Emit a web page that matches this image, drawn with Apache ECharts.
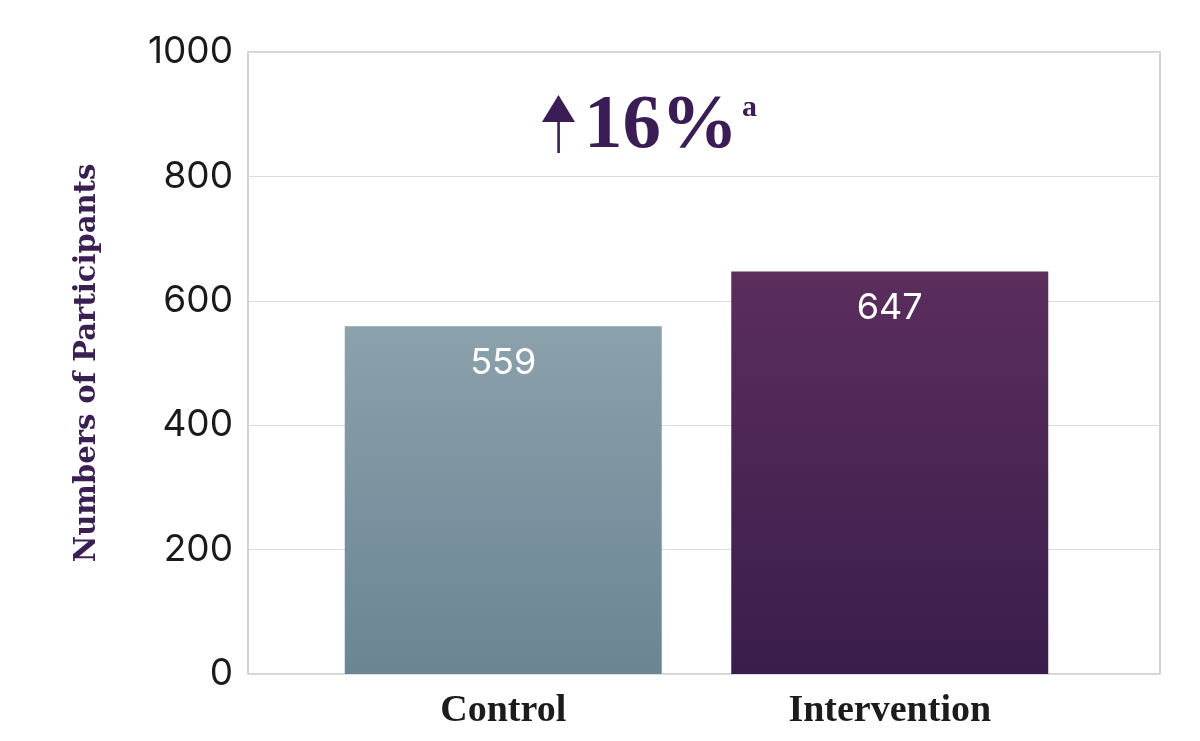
<!DOCTYPE html>
<html>
<head>
<meta charset="utf-8">
<script src="https://cdn.jsdelivr.net/npm/echarts@6/dist/echarts.min.js"></script>
<style>
  html, body { margin: 0; padding: 0; background: #fff; }
  #chart { width: 1200px; height: 741px; }
</style>
</head>
<body>
<div id="chart"></div>
<script>
// data
var categories = ['Control', 'Intervention'];
var participants = [559, 647];
var yTicks = [0, 200, 400, 600, 800, 1000];
var headline = '16%';
var headlineNote = 'a';

var barColors = [
  ['#8ba1ac', '#6b8593'],
  ['#5b2e5c', '#3a1d4c']
];

var myChart = echarts.init(document.getElementById('chart'));

var option = {
  animation: false,
  backgroundColor: '#fff',
  grid: [
    // frame with the value axis
    { left: 248, right: 40, top: 52, bottom: 67, show: true, borderColor: '#c4c4c4', borderWidth: 1.5 },
    // bars sit in their own grid so they line up with the picture
    { left: 310, right: 117, top: 52, bottom: 67 }
  ],
  xAxis: [
    { gridIndex: 0, type: 'value', show: false, min: 0, max: 1 },
    {
      gridIndex: 1,
      type: 'category',
      data: categories,
      axisLine: { show: false },
      axisTick: { show: false },
      axisLabel: {
        margin: 18,
        fontFamily: 'Liberation Serif',
        fontWeight: 'bold',
        fontSize: 38,
        color: '#1c1c1c'
      }
    }
  ],
  yAxis: [
    {
      gridIndex: 0,
      type: 'value',
      min: yTicks[0],
      max: yTicks[yTicks.length - 1],
      interval: yTicks[1] - yTicks[0],
      name: 'Numbers of Participants',
      nameLocation: 'middle',
      nameRotate: 90,
      nameGap: 146,
      nameTextStyle: {
        fontFamily: 'DejaVu Serif',
        fontWeight: 'bold',
        fontSize: 29,
        color: '#3a1f52'
      },
      axisLine: { show: false },
      axisTick: { show: false },
      axisLabel: {
        margin: 15,
        fontFamily: 'Inter',
        fontSize: 37,
        color: '#1a1a1a',
        lineHeight: 44,
        padding: [13, 0, 0, 0],
        formatter: function (v) { return String(v); }
      },
      splitLine: { lineStyle: { color: '#dcdcdc', width: 1 } }
    },
    { gridIndex: 1, type: 'value', min: 0, max: 1000, show: false }
  ],
  series: [{
    type: 'bar',
    xAxisIndex: 1,
    yAxisIndex: 1,
    barWidth: 317,
    data: participants.map(function (v, i) {
      return {
        value: v,
        itemStyle: {
          color: new echarts.graphic.LinearGradient(0, 0, 0, 1, [
            { offset: 0, color: barColors[i][0] },
            { offset: 1, color: barColors[i][1] }
          ])
        }
      };
    }),
    label: {
      show: true,
      position: 'insideTop',
      distance: 19,
      fontFamily: 'Inter',
      fontSize: 36,
      color: '#fff'
    }
  }],
  graphic: [
    // up arrow in front of the headline
    { type: 'polygon', shape: { points: [[542, 122], [575, 122], [558.5, 95]] }, style: { fill: '#3a1d54' } },
    { type: 'rect', shape: { x: 557.3, y: 118, width: 2.6, height: 35 }, style: { fill: '#3a1d54' } },
    {
      type: 'text', left: 584, top: 89,
      style: { text: headline, fontFamily: 'Liberation Serif', fontWeight: 'bold', fontSize: 77, fill: '#3a1d54' }
    },
    {
      type: 'text', left: 742, top: 93,
      style: { text: headlineNote, fontFamily: 'Liberation Serif', fontWeight: 'bold', fontSize: 30, fill: '#3a1d54' }
    }
  ]
};

myChart.setOption(option);
</script>
</body>
</html>
